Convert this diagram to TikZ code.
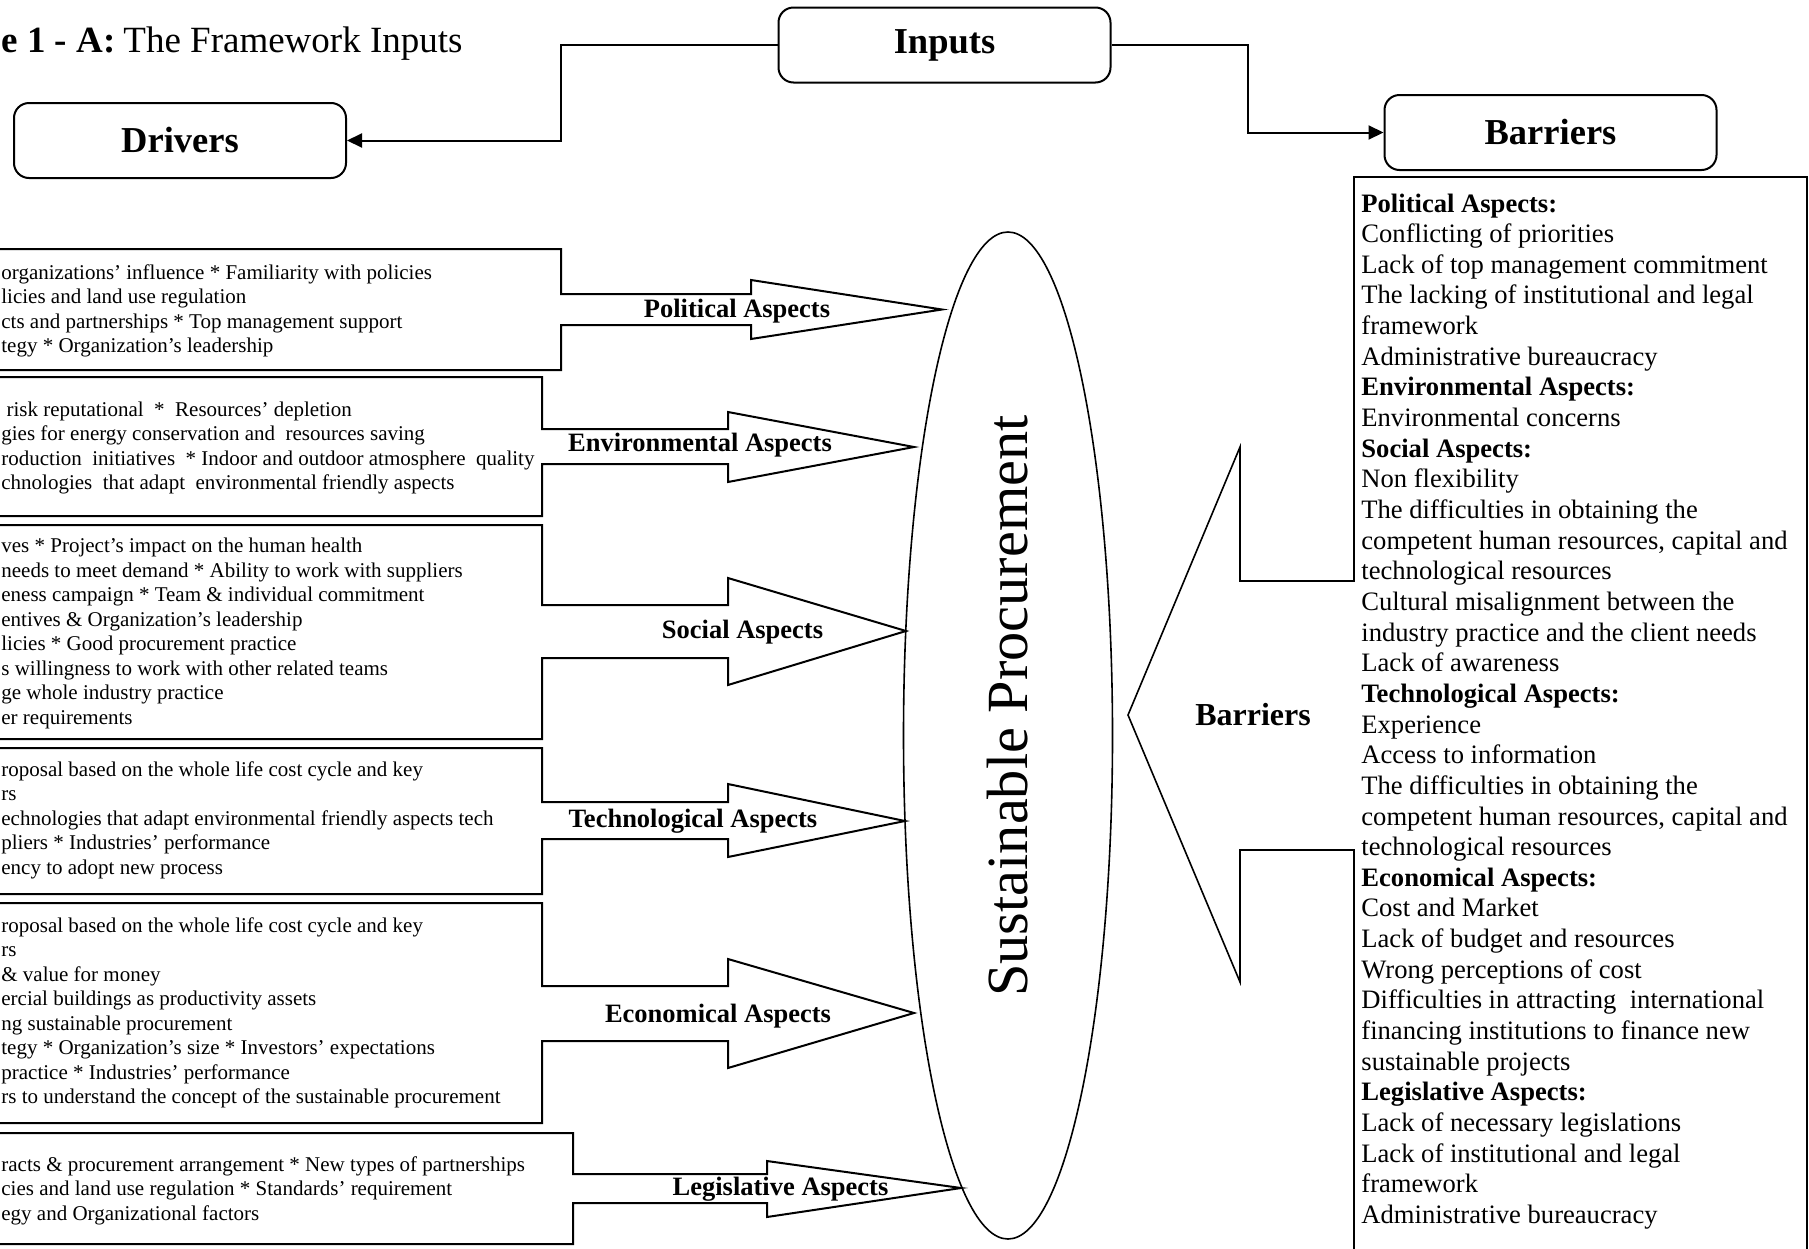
\documentclass[tikz,border=0pt]{standalone}
\usepackage{fontspec}
\setmainfont{Liberation Serif}
\usetikzlibrary{arrows.meta}
\tikzset{
  hdrbox/.style={draw, line width=1pt, rounded corners=7.5pt, minimum width=166pt, minimum height=37.5pt, inner sep=0pt, font=\fontsize{18.25pt}{20pt}\selectfont\bfseries},
  conn/.style={line width=1pt, -{Triangle[length=7.5pt,width=7pt]}},
  blockline/.style={draw, line width=1pt, line join=miter},
  thinline/.style={draw, line width=0.8pt, line join=miter},
  lefttext/.style={anchor=base west, inner sep=0pt, font=\fontsize{10.5pt}{12pt}\selectfont},
  righttext/.style={anchor=base west, inner sep=0pt, font=\fontsize{13.3pt}{15pt}\selectfont},
  aspectlabel/.style={anchor=base, inner sep=0pt, font=\fontsize{13.25pt}{15pt}\selectfont\bfseries},
  titlefont/.style={inner sep=0pt, font=\fontsize{18.5pt}{21pt}\selectfont},
}
\begin{document}
\begin{tikzpicture}[x=0.5pt, y=-0.5pt]
\useasboundingbox (0,0) rectangle (1809,1248);
\clip (0,0) rectangle (1809,1248);

% title
\node[titlefont, anchor=base west, font=\fontsize{18.5pt}{21pt}\selectfont\bfseries] (titleA) at (1,52) {e 1 - A:};
\node[titlefont, anchor=base west] (titleB) at (123,52) {The Framework Inputs};

% header boxes
\node[hdrbox] (inp) at (944.5,45) {Inputs};
\node[hdrbox] (drv) at (180,140.5) {Drivers};
\node[hdrbox] (bar) at (1550.5,132.5) {Barriers};
\coordinate (jl) at (561,0);
\coordinate (jr) at (1248,0);
\draw[conn] (inp.west) -- (inp.west -| jl) |- (drv.east);
\draw[conn] (inp.east) -- (inp.east -| jr) |- (bar.west);

% left block arrows
\draw[blockline] (-10,249) -- (561,249) -- (561,294) -- (751,294) -- (751,280) -- (942,309.5) -- (751,339) -- (751,325) -- (561,325) -- (561,370) -- (-10,370);
\draw[blockline] (-10,377) -- (542,377) -- (542,429) -- (728,429) -- (728,412) -- (914,447) -- (728,482) -- (728,464) -- (542,464) -- (542,516) -- (-10,516);
\draw[blockline] (-10,525) -- (542,525) -- (542,605) -- (728,605) -- (728,578) -- (906,631) -- (728,685) -- (728,658) -- (542,658) -- (542,739) -- (-10,739);
\draw[blockline] (-10,748) -- (542,748) -- (542,802) -- (728,802) -- (728,784) -- (905,821) -- (728,857) -- (728,839) -- (542,839) -- (542,894) -- (-10,894);
\draw[blockline] (-10,903) -- (542,903) -- (542,986) -- (728,986) -- (728,959) -- (914,1013) -- (728,1068) -- (728,1041) -- (542,1041) -- (542,1123) -- (-10,1123);
\draw[blockline] (-10,1133) -- (573,1133) -- (573,1174) -- (767,1174) -- (767,1161) -- (961,1188) -- (767,1217) -- (767,1203) -- (573,1203) -- (573,1244) -- (-10,1244);

% aspect labels
\node[aspectlabel] (lpol) at (737,317) {Political Aspects};
\node[aspectlabel] (lenv) at (700,451) {Environmental Aspects};
\node[aspectlabel] (lsoc) at (742.5,638) {Social Aspects};
\node[aspectlabel] (ltec) at (693,827) {Technological Aspects};
\node[aspectlabel] (leco) at (718,1022) {Economical Aspects};
\node[aspectlabel] (lleg) at (780.5,1195) {Legislative Aspects};

% left texts
\foreach \t [count=\i from 0] in {
  {organizations’ influence * Familiarity with policies},
  {licies and land use regulation},
  {cts and partnerships * Top management support},
  {tegy * Organization’s leadership}}
  \node[lefttext] (pol\i) at ({1},{279+24.55*\i}) {\t};
\foreach \t [count=\i from 0] in {
  {\ risk reputational\ \ *\ \ Resources’ depletion},
  {gies for energy conservation and\ \ resources saving},
  {roduction\ \ initiatives\ \ * Indoor and outdoor atmosphere\ \ quality},
  {chnologies\ \ that adapt\ \ environmental friendly aspects}}
  \node[lefttext] (env\i) at ({1},{416+24.55*\i}) {\t};
\foreach \t [count=\i from 0] in {
  {ves * Project’s impact on the human health},
  {needs to meet demand * Ability to work with suppliers},
  {eness campaign * Team \& individual commitment},
  {entives \& Organization’s leadership},
  {licies * Good procurement practice},
  {s willingness to work with other related teams},
  {ge whole industry practice},
  {er requirements}}
  \node[lefttext] (soc\i) at ({1},{552.5+24.55*\i}) {\t};
\foreach \t [count=\i from 0] in {
  {roposal based on the whole life cost cycle and key},
  {rs},
  {echnologies that adapt environmental friendly aspects tech},
  {pliers * Industries’ performance},
  {ency to adopt new process}}
  \node[lefttext] (tec\i) at ({1},{776+24.55*\i}) {\t};
\foreach \t [count=\i from 0] in {
  {roposal based on the whole life cost cycle and key},
  {rs},
  {\& value for money},
  {ercial buildings as productivity assets},
  {ng sustainable procurement},
  {tegy * Organization’s size * Investors’ expectations},
  {practice * Industries’ performance},
  {rs to understand the concept of the sustainable procurement}}
  \node[lefttext] (eco\i) at ({1},{932+24.55*\i}) {\t};
\foreach \t [count=\i from 0] in {
  {racts \& procurement arrangement * New types of partnerships},
  {cies and land use regulation * Standards’ requirement},
  {egy and Organizational factors}}
  \node[lefttext] (leg\i) at ({1},{1171+24.55*\i}) {\t};

% central ellipse
\draw[line width=0.8pt] (1008,735.5) ellipse [x radius=104.5, y radius=503.5];
\node[rotate=90, inner sep=0pt, font=\fontsize{29.15pt}{32pt}\selectfont] (sp) at (1008,706) {Sustainable Procurement};

% barriers arrow + box
\draw[thinline] (1354,1260) -- (1354,850) -- (1240,850) -- (1240,982) -- (1128,715) -- (1240,447) -- (1240,581) -- (1354,581) -- (1354,177) -- (1807,177) -- (1807,1260);
\node[anchor=base, inner sep=0pt, font=\fontsize{16pt}{18pt}\selectfont\bfseries] (blab) at (1253,725) {Barriers};

\foreach \t [count=\i from 0] in {
  {\textbf{Political Aspects:}},
  {Conflicting of priorities},
  {Lack of top management commitment},
  {The lacking of institutional and legal},
  {framework},
  {Administrative bureaucracy},
  {\textbf{Environmental Aspects:}},
  {Environmental concerns},
  {\textbf{Social Aspects:}},
  {Non flexibility},
  {The difficulties in obtaining the},
  {competent human resources, capital and},
  {technological resources},
  {Cultural misalignment between the},
  {industry practice and the client needs},
  {Lack of awareness},
  {\textbf{Technological Aspects:}},
  {Experience},
  {Access to information},
  {The difficulties in obtaining the},
  {competent human resources, capital and},
  {technological resources},
  {\textbf{Economical Aspects:}},
  {Cost and Market},
  {Lack of budget and resources},
  {Wrong perceptions of cost},
  {Difficulties in attracting\ \ international},
  {financing institutions to finance new},
  {sustainable projects},
  {\textbf{Legislative Aspects:}},
  {Lack of necessary legislations},
  {Lack of institutional and legal},
  {framework},
  {Administrative bureaucracy}}
  \node[righttext] (rb\i) at ({1361},{212+30.65*\i}) {\t};
\end{tikzpicture}
\end{document}
